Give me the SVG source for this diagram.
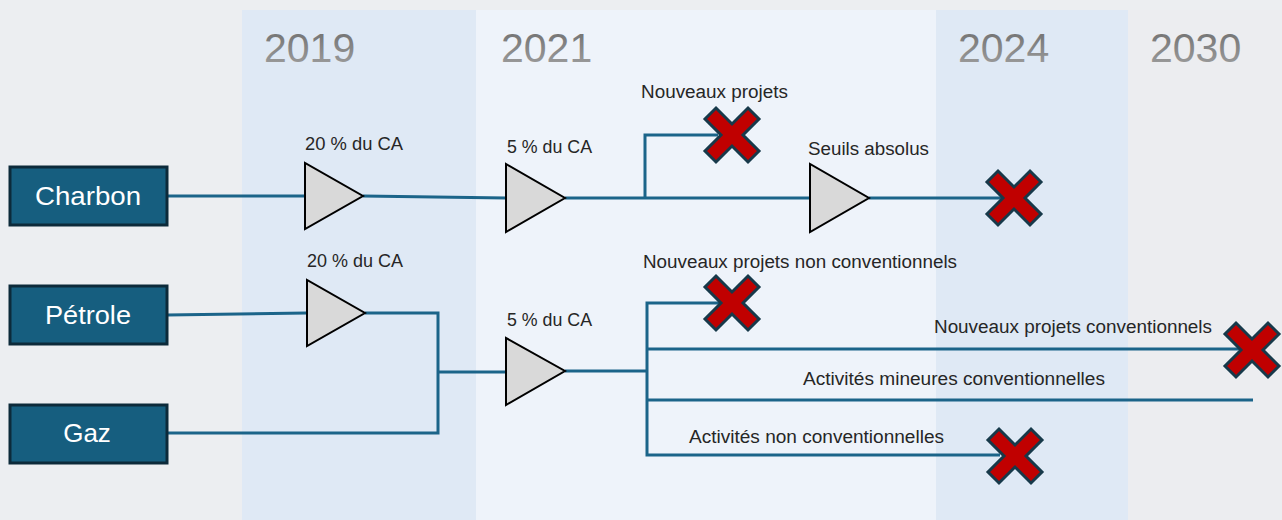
<svg xmlns="http://www.w3.org/2000/svg" width="1282" height="520" viewBox="0 0 1282 520">
<defs>
<linearGradient id="yg" x1="0" y1="0" x2="0" y2="1">
<stop offset="0" stop-color="#6c6c6c"/>
<stop offset="1" stop-color="#a2a2a2"/>
</linearGradient>
<path id="xm" d="M-16,-27 L0,-11 L16,-27 L27,-16 L11,0 L27,16 L16,27 L0,11 L-16,27 L-27,16 L-11,0 L-27,-16 Z"/>
</defs>
<style>
.year{font-family:"Liberation Sans",Arial,sans-serif;font-size:41px;fill:url(#yg)}
.box{fill:#165E7F;stroke:#0C2A3A;stroke-width:3}
.bt{font-family:"Liberation Sans",Arial,sans-serif;font-size:26px;fill:#ffffff;text-anchor:middle}
.tri{fill:#D9D9D9;stroke:#000000;stroke-width:2;stroke-linejoin:miter}
.lbl{font-family:"Liberation Sans",Arial,sans-serif;font-size:18px;fill:#262626}
.con{fill:none;stroke:#1B6489;stroke-width:3}
.x{fill:#C00000;stroke:#17394A;stroke-width:3;stroke-linejoin:miter}
</style>
<rect x="0" y="0" width="1282" height="520" fill="#ECEEF1"/>
<g id="bands">
<rect x="242" y="10" width="234" height="510" fill="#DFE9F5"/>
<rect x="476" y="10" width="460" height="510" fill="#EEF3FA"/>
<rect x="936" y="10" width="192" height="510" fill="#DFE9F5"/>
<rect x="1128" y="10" width="154" height="510" fill="#ECEDF0"/>
</g>
<g id="years">
<text class="year" x="264" y="62">2019</text>
<text class="year" x="501" y="62">2021</text>
<text class="year" x="958" y="62">2024</text>
<text class="year" x="1150" y="62">2030</text>
</g>
<g id="connectors">
<polyline class="con" points="167,196 305,196"/>
<polyline class="con" points="363,196 506,198"/>
<polyline class="con" points="565,198 810,198"/>
<polyline class="con" points="645,198 645,135 718,135"/>
<polyline class="con" points="869,198 1002,198"/>
<polyline class="con" points="167,315 307,313"/>
<polyline class="con" points="365,313 438,313 438,433 167,433"/>
<polyline class="con" points="438,372 506,372"/>
<polyline class="con" points="565,371 647,371"/>
<polyline class="con" points="720,303 647,303 647,455 1000,455"/>
<polyline class="con" points="647,349 1240,349"/>
<polyline class="con" points="647,400 1253,400"/>
</g>
<g id="charbon">
<rect class="box" x="10" y="167" width="157" height="58"/>
<text class="bt" x="88" y="205" textLength="106" lengthAdjust="spacingAndGlyphs">Charbon</text>
</g>
<g id="petrole">
<rect class="box" x="10" y="286" width="157" height="58"/>
<text class="bt" x="88" y="324" textLength="86" lengthAdjust="spacingAndGlyphs">Pétrole</text>
</g>
<g id="gaz">
<rect class="box" x="10" y="405" width="157" height="58"/>
<text class="bt" x="87" y="442">Gaz</text>
</g>
<g id="tri-charbon-2019">
<polygon class="tri" points="305,163 305,229 363,196"/>
<text class="lbl" x="305" y="150" textLength="98" lengthAdjust="spacingAndGlyphs">20 % du CA</text>
</g>
<g id="tri-charbon-2021">
<polygon class="tri" points="506,164 506,232 565,198"/>
<text class="lbl" x="507" y="153" textLength="85" lengthAdjust="spacingAndGlyphs">5 % du CA</text>
</g>
<g id="tri-seuils">
<polygon class="tri" points="810,164 810,232 869,198"/>
<text class="lbl" x="808" y="155" textLength="121" lengthAdjust="spacingAndGlyphs">Seuils absolus</text>
</g>
<g id="tri-petrole-2019">
<polygon class="tri" points="307,280 307,346 365,313"/>
<text class="lbl" x="307" y="267" textLength="96" lengthAdjust="spacingAndGlyphs">20 % du CA</text>
</g>
<g id="tri-pg-2021">
<polygon class="tri" points="506,338 506,405 565,371"/>
<text class="lbl" x="507" y="326" textLength="85" lengthAdjust="spacingAndGlyphs">5 % du CA</text>
</g>
<g id="x-nouveaux-projets">
<use href="#xm" class="x" transform="translate(732,135)"/>
<text class="lbl" x="641" y="98" textLength="147" lengthAdjust="spacingAndGlyphs">Nouveaux projets</text>
</g>
<g id="x-charbon-2024">
<use href="#xm" class="x" transform="translate(1014,198)"/>
</g>
<g id="x-npnc">
<use href="#xm" class="x" transform="translate(732,303)"/>
<text class="lbl" x="643" y="268" textLength="314" lengthAdjust="spacingAndGlyphs">Nouveaux projets non conventionnels</text>
</g>
<g id="x-npc">
<use href="#xm" class="x" transform="translate(1252,350)"/>
<text class="lbl" x="934" y="333" textLength="278" lengthAdjust="spacingAndGlyphs">Nouveaux projets conventionnels</text>
</g>
<g id="amc">
<text class="lbl" x="803" y="385" textLength="302" lengthAdjust="spacingAndGlyphs">Activités mineures conventionnelles</text>
</g>
<g id="x-anc">
<use href="#xm" class="x" transform="translate(1015,456)"/>
<text class="lbl" x="689" y="443" textLength="255" lengthAdjust="spacingAndGlyphs">Activités non conventionnelles</text>
</g>
</svg>
